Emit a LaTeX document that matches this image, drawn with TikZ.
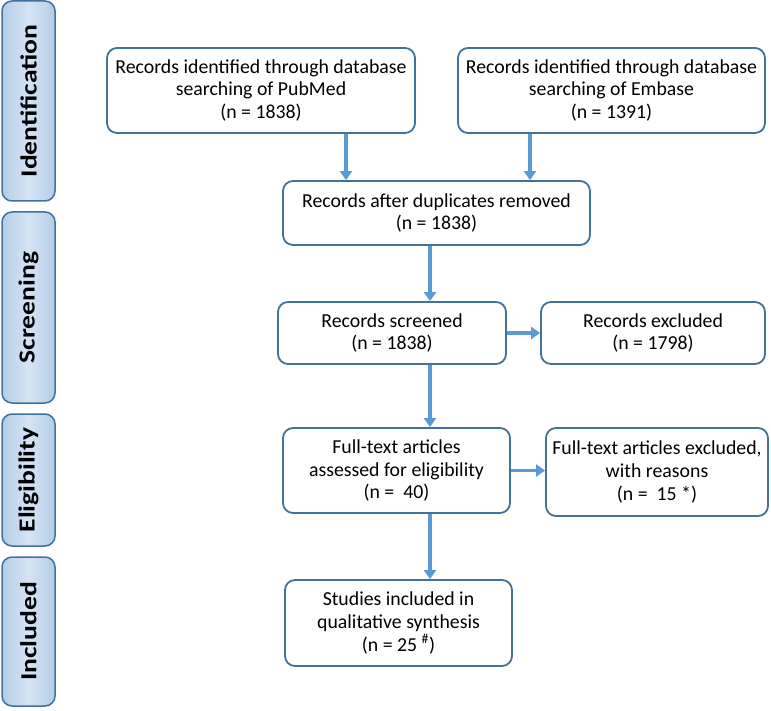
\documentclass[tikz,border=0pt]{standalone}
\usepackage{fontspec}
\setmainfont{Carlito}
\usepackage{xcolor}
\usepackage{tikz}
\usetikzlibrary{positioning,arrows.meta}

\definecolor{boxline}{HTML}{41719C}
\definecolor{flowline}{HTML}{5B9BD5}
\definecolor{barouter}{HTML}{B4CCE8}
\definecolor{barinner}{HTML}{D6E4F4}

\newcommand{\phaselabel}[1]{\scalebox{1.2}[1]{#1}}

\begin{document}
\begin{tikzpicture}[
				x=1pt, y=-1pt,
				stagebox/.style={rectangle, rounded corners=10pt, draw=boxline, line width=1.8pt, fill=white, align=center, inner sep=2pt, font=\fontsize{19.8}{22.7}\selectfont},
				phasebar/.style={rectangle, rounded corners=10pt, draw=boxline, line width=1.5pt, left color=barouter, right color=barouter, middle color=barinner, minimum width=53pt},
				phasetext/.style={rotate=90, font=\fontsize{23}{26}\selectfont\bfseries},
				flow/.style={draw=flowline, line width=3.3pt, -{Triangle[width=12pt,length=9pt]}},
				]
				\useasboundingbox (0,0) rectangle (771,711);
				
				%Phase bars
				\node[phasebar, minimum height=200pt](barid) at (28.5,101){};
				\node[phasetext] at (barid.center){\phaselabel{Identification}};
				\node[phasebar, minimum height=191pt](barscr) at (28.5,307.5){};
				\node[phasetext] at (barscr.center){\phaselabel{Screening}};
				\node[phasebar, minimum height=132pt](barelig) at (28.5,480){};
				\node[phasetext] at (barelig.center){\phaselabel{Eligibility}};
				\node[phasebar, minimum height=149pt](barincl) at (28.5,631.5){};
				\node[phasetext] at (barincl.center){\phaselabel{Included}};
				
				%Nodes
				\node[stagebox, minimum width=308pt, minimum height=85pt](pubmed) at (261,90.5){Records identified through database\\searching of PubMed\\(n = 1838)};
				\node[stagebox, minimum width=307pt, minimum height=85pt](embase) at (611.5,90.5){Records identified through database\\searching of Embase\\(n = 1391)};
				\node[stagebox, minimum width=307pt, minimum height=64pt](dup) at (436.5,213){Records after duplicates removed\\(n = 1838)};
				\node[stagebox, minimum width=228pt, minimum height=62pt](screened) at (392,333){Records screened\\(n = 1838)};
				\node[stagebox, minimum width=224pt, minimum height=62pt](excl) at (653,333){Records excluded\\(n = 1798)};
				\node[stagebox, minimum width=227pt, minimum height=85pt](full) at (396.5,470.5){Full-text articles\\assessed for eligibility\\(n = ~40)};
				\node[stagebox, minimum width=222pt, minimum height=88pt](reasons) at (657,472){Full-text articles excluded,\\with reasons\\(n = ~15 *)};
				\node[stagebox, minimum width=227pt, minimum height=86pt](incl) at (398.5,623){Studies included in\\qualitative synthesis\\(n = 25 \textsuperscript{\#})};
				\coordinate (col) at (430,0);
				
				%Lines
				\draw[flow] ([xshift=85pt]pubmed.south) -- ([xshift=85pt]pubmed.south |- dup.north);
				\draw[flow] ([xshift=-81.5pt]embase.south) -- ([xshift=-81.5pt]embase.south |- dup.north);
				\draw[flow] (dup.south -| col) -- (screened.north -| col);
				\draw[flow] (screened.east) -- (screened.east -| excl.west);
				\draw[flow] (screened.south -| col) -- (full.north -| col);
				\draw[flow] (full.east) -- (full.east -| reasons.west);
				\draw[flow] (full.south -| col) -- (incl.north -| col);
				
			\end{tikzpicture}
\end{document}
